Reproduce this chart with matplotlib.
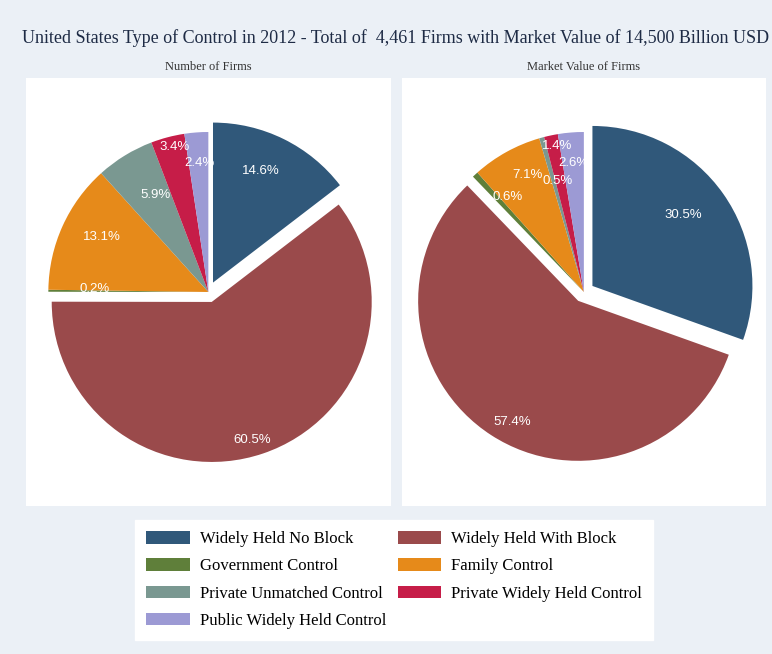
import numpy as np
import matplotlib
matplotlib.use('Agg')
import matplotlib.pyplot as plt

# Ownership categories and shares (%) for 2012
categories = [
    "Widely Held No Block",
    "Widely Held With Block",
    "Government Control",
    "Family Control",
    "Private Unmatched Control",
    "Private Widely Held Control",
    "Public Widely Held Control",
]
share_firms = [14.6, 60.5, 0.2, 13.1, 5.9, 3.4, 2.4]
share_value = [30.5, 57.4, 0.6, 7.1, 0.5, 1.4, 2.6]

title = "United States Type of Control in 2012 - Total of  4,461 Firms with Market Value of 14,500 Billion USD"
panel_titles = ["Number of Firms", "Market Value of Firms"]

colors = ['#30587A', '#9A4A4B', '#5F7F3A', '#E68A1A', '#7A9891', '#C61D48', '#9C9AD4']
BG = '#EBF0F6'
W, H = 772, 654

# label placement per slice: fraction of radius, and angle nudge in degrees
label_r = [
    [0.76, 0.90, 0.71, 0.75, 0.69, 0.93, 0.81],
    [0.72, 0.86, 0.76, 0.81, 0.71, 0.93, 0.81],
]
label_da = [
    [3, -2.5, -1, -3, -3, -1.5, -0.5],
    [3, 4.5, -4, -3, -2, -1.5, 0],
]

fig = plt.figure(figsize=(W / 100, H / 100), dpi=100, facecolor=BG)


def px_axes(x0, y0, x1, y1):
    return fig.add_axes([x0 / W, 1 - y1 / H, (x1 - x0) / W, (y1 - y0) / H])


def draw_pie(ax, values, lr, da):
    R = 160
    # explode is in data units here (axes are 1 unit per pixel)
    wedges, _ = ax.pie(values, colors=colors, startangle=90, counterclock=False,
                       explode=[10.5, 10.5, 0, 0, 0, 0, 0], radius=R,
                       center=(0, 0), frame=True,
                       wedgeprops=dict(linewidth=0))
    for w, v, f, d in zip(wedges, values, lr, da):
        mid = np.deg2rad((w.theta1 + w.theta2) / 2 + d)
        cx, cy = w.center
        ax.text(cx + f * R * np.cos(mid), cy + f * R * np.sin(mid), f"{v:.1f}%",
                ha='center', va='center', color='white', fontsize=9.5,
                family='Liberation Sans')
    return wedges


panels = [(26, 78, 390.7, 506), (401.7, 78, 766, 506)]
wedges = None
for i, (vals, box) in enumerate(zip([share_firms, share_value], panels)):
    ax = px_axes(*box)
    wedges_i = draw_pie(ax, vals, label_r[i], label_da[i])
    if wedges is None:
        wedges = wedges_i
    w_px, h_px = box[2] - box[0], box[3] - box[1]
    ax.set_xlim(-w_px / 2, w_px / 2)
    ax.set_ylim(-h_px / 2, h_px / 2)
    ax.set_aspect('auto')
    ax.set_facecolor('white')
    ax.set_xticks([])
    ax.set_yticks([])
    for s in ax.spines.values():
        s.set_visible(False)
    fig.text((box[0] + box[2]) / 2 / W, 1 - 67 / H, panel_titles[i],
             ha='center', va='center', fontsize=9, color='#333333',
             family='Liberation Serif')

fig.text(22 / W, 1 - 38 / H, title, ha='left', va='center', fontsize=13,
         color='#1E2B45', family='Liberation Serif')

# row-wise ordering for a 2-column legend
order = [0, 2, 4, 6, 1, 3, 5]
leg = fig.legend([wedges[k] for k in order], [categories[k] for k in order],
                 ncol=2, loc='center', bbox_to_anchor=(394 / W, 1 - 580 / H),
                 prop={'family': 'Liberation Serif', 'size': 12},
                 frameon=True, fancybox=False, framealpha=1, edgecolor='white',
                 handlelength=2.6, handleheight=0.8, handletextpad=0.6,
                 columnspacing=0.7, labelspacing=0.66, borderpad=0.65)
leg.get_frame().set_facecolor('white')

fig.savefig('out.png', dpi=100, facecolor=BG)
